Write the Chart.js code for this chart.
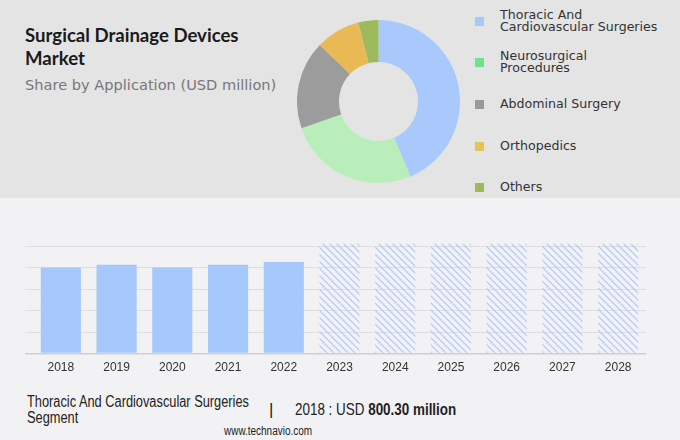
<!DOCTYPE html>
<html>
<head>
<meta charset="utf-8">
<script src="https://cdn.jsdelivr.net/npm/chart.js@4.4.1/dist/chart.umd.min.js"></script>
<style>
  body { margin: 0; width: 680px; height: 440px; background: #f2f2f4; position: relative; overflow: hidden; font-family: "DejaVu Sans", sans-serif; }
  #top { position: absolute; left: 0; top: 0; width: 680px; height: 198px; background: #e4e4e4; }
  #title { position: absolute; left: 25px; top: 24px; font-family: "Lato", sans-serif; font-weight: bold; font-size: 18.6px; line-height: 23px; color: #1a1a1a; }
  #subtitle { position: absolute; left: 25px; top: 76px; font-size: 14.6px; color: #777; }
  #donutBox { position: absolute; left: 297px; top: 20px; width: 163px; height: 163px; }
  #legend { position: absolute; left: 475px; top: 0; }
  .item { position: absolute; left: 0; width: 200px; }
  .sw { position: absolute; left: 0; width: 9px; height: 9px; }
  .lab { position: absolute; left: 25px; font-size: 12.6px; line-height: 12px; color: #333; white-space: nowrap; }
  #barBox { position: absolute; left: 0; top: 236px; width: 680px; height: 153px; }
  .foot { position: absolute; font-family: "Liberation Sans", sans-serif; color: #222; white-space: nowrap; transform-origin: 0 0; }
</style>
</head>
<body>
<div id="top"></div>
<div id="title">Surgical Drainage Devices<br>Market</div>
<div id="subtitle">Share by Application (USD million)</div>
<div id="donutBox"><canvas id="donut"></canvas></div>
<div id="legend"></div>
<div id="barBox"><canvas id="bars"></canvas></div>
<div class="foot" style="left:27px; top:394px; font-size:16px; line-height:16px; transform:scaleX(0.80);">Thoracic And Cardiovascular Surgeries<br>Segment</div>
<div class="foot" style="left:269px; top:400px; font-size:17px;">|</div>
<div class="foot" style="left:295px; top:400px; font-size:17px; transform:scaleX(0.79);">2018 : USD <b>800.30 million</b></div>
<div class="foot" style="left:224px; top:424px; font-size:12px; transform:scaleX(0.83);">www.technavio.com</div>
<script>
// application share (%)
const segments = ["Thoracic And Cardiovascular Surgeries", "Neurosurgical Procedures", "Abdominal Surgery", "Orthopedics", "Others"];
const legendLines = [["Thoracic And", "Cardiovascular Surgeries"], ["Neurosurgical", "Procedures"], ["Abdominal Surgery"], ["Orthopedics"], ["Others"]];
const shares = [43.6, 26.1, 17.5, 8.8, 4.0];
const sliceColors = ["#a9c9fd", "#b9edb9", "#9c9c9c", "#e9b955", "#9dba5c"];
const legendColors = ["#a6c8fa", "#6fe28e", "#9a9a9a", "#e3c452", "#9eba5a"];

// thoracic segment, USD million
const years = ["2018", "2019", "2020", "2021", "2022", "2023", "2024", "2025", "2026", "2027", "2028"];
const values = [800.3, 825, 800, 825, 852, 1020, 1020, 1020, 1020, 1020, 1020];
const forecastFrom = 5;

// legend
const legendTops = [21, 62, 104, 146, 187];
const legend = document.getElementById("legend");
legendLines.forEach((lines, i) => {
    const item = document.createElement("div");
    item.className = "item";
    const h = lines.length * 12;
    item.style.top = (legendTops[i] - h / 2) + "px";
    const sw = document.createElement("div");
    sw.className = "sw";
    sw.style.background = legendColors[i];
    sw.style.top = (h / 2 - 4.5) + "px";
    const lab = document.createElement("div");
    lab.className = "lab";
    lab.innerHTML = lines.join("<br>");
    item.appendChild(sw);
    item.appendChild(lab);
    legend.appendChild(item);
});

new Chart(document.getElementById("donut"), {
    type: "doughnut",
    data: {
        labels: segments,
        datasets: [{
            data: shares,
            backgroundColor: sliceColors,
            borderWidth: 0,
        }]
    },
    options: {
        responsive: true,
        maintainAspectRatio: false,
        animation: false,
        cutout: "48.5%",
        plugins: {
            legend: { display: false },
            tooltip: { enabled: false }
        }
    }
});

// hatch for forecast bars
function hatch() {
    const c = document.createElement("canvas");
    c.width = 7;
    c.height = 7;
    const g = c.getContext("2d");
    g.strokeStyle = "#abc7f6";
    g.lineWidth = 1.1;
    g.beginPath();
    g.moveTo(-1, -1); g.lineTo(8, 8);
    g.moveTo(6, -1); g.lineTo(8, 1);
    g.moveTo(-1, 6); g.lineTo(1, 8);
    g.stroke();
    return g.createPattern(c, "repeat");
}
const pattern = hatch();
const barColors = values.map((v, i) => i < forecastFrom ? "#a7c8fc" : pattern);

new Chart(document.getElementById("bars"), {
    type: "bar",
    data: {
        labels: years,
        datasets: [{
            data: values,
            backgroundColor: barColors,
            barPercentage: 0.72,
            categoryPercentage: 1,
            clip: false,
        }]
    },
    options: {
        responsive: true,
        maintainAspectRatio: false,
        animation: false,
        layout: { padding: { left: 25, right: 34, top: 10, bottom: 7 } },
        scales: {
            x: {
                grid: { display: false, drawTicks: false },
                border: { display: false },
                ticks: { color: "#333", padding: 7, font: { family: "Liberation Sans", size: 12 } }
            },
            y: {
                min: 0,
                max: 1000,
                ticks: { display: false, stepSize: 200 },
                border: { display: false },
                grid: {
                    tickLength: 8,
                    color: ctx => ctx.tick && ctx.tick.value === 0 ? "#cfcfcf" : "#dedede",
                    lineWidth: ctx => ctx.tick && ctx.tick.value === 0 ? 1.5 : 1
                }
            }
        },
        plugins: {
            legend: { display: false },
            tooltip: { enabled: false }
        }
    }
});
</script>
</body>
</html>
